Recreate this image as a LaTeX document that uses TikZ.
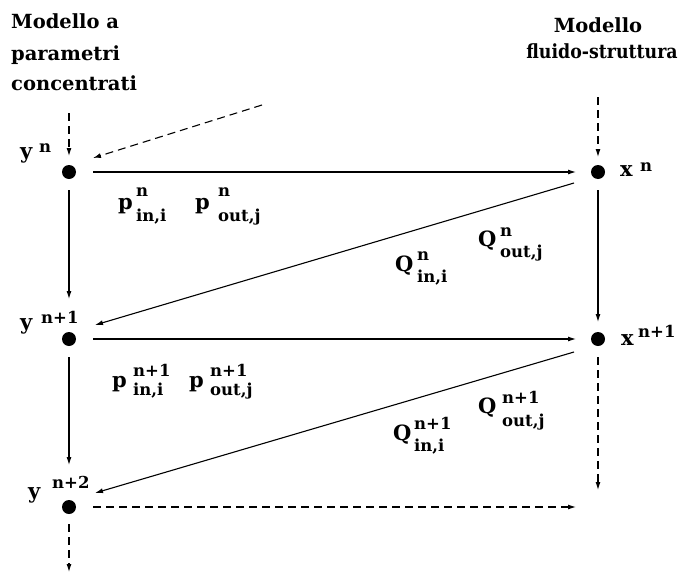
\documentclass[tikz,border=0pt]{standalone}
\usepackage{fontspec}
\setmainfont{DejaVu Serif}
\usetikzlibrary{arrows.meta,calc}
\newcommand\mylab[6]{\makebox[#4][l]{\fontsize{21}{21}\selectfont #1}{\fontsize{16.5}{16.5}\selectfont\rlap{\raisebox{#5}{#2}}\raisebox{-#6}{#3}}}
\tikzset{
  dot/.style={circle,fill=black,inner sep=0pt,minimum size=14pt},
  lbl/.style={anchor=base west,inner sep=0pt,font=\bfseries},
  ttl/.style={inner sep=0pt,font=\bfseries\fontsize{19.5}{19.5}\selectfont},
  arr/.style={line width=1.1pt,-{Latex[length=8pt,width=5pt]}},
  darr/.style={arr,dash pattern=on 8pt off 5pt},
}
\begin{document}
\begin{tikzpicture}[x=1pt,y=-1pt]
\useasboundingbox[fill=white] (0,0) rectangle (686,573);
% titles
\node[ttl,anchor=base west] (t1) at (11,28) {Modello a};
\node[ttl,anchor=base west] (t2) at (11,60) {parametri};
\node[ttl,anchor=base west] (t3) at (11,90) {concentrati};
\node[ttl,anchor=base] (t4) at (598,32) {Modello};
\node[ttl,anchor=base] (t5) at (602,58) {\scalebox{0.89}[1]{fluido-struttura}};
% dots
\node[dot] (yn) at (69,172) {};
\node[dot] (yn1) at (69,339) {};
\node[dot] (yn2) at (69,507) {};
\node[dot] (xn) at (598,172) {};
\node[dot] (xn1) at (598,339) {};
% free ends
\coordinate (sy) at (69,113);
\coordinate (sd) at (262,105);
\coordinate (sx) at (598,97);
\coordinate (ey) at (576,507);
\coordinate (eyb) at (69,572);
\coordinate (exb) at (598,490);
% connectors
\draw[darr] (sy) -- ($(yn)+(0,-16)$);
\draw[darr] (sd) -- ($(yn)+(24,-14)$);
\draw[darr] (sx) -- ($(xn)+(0,-15)$);
\draw[arr] ($(yn)+(24,0)$) -- ($(xn)+(-22,0)$);
\draw[arr] ($(xn)+(-24,11)$) -- ($(yn1)+(26,-14)$);
\draw[arr] ($(yn)+(0,18)$) -- ($(yn1)+(0,-40)$);
\draw[arr] ($(xn)+(0,18)$) -- ($(xn1)+(0,-17)$);
\draw[arr] ($(yn1)+(24,0)$) -- ($(xn1)+(-22,0)$);
\draw[arr] ($(xn1)+(-24,13)$) -- ($(yn2)+(26,-14)$);
\draw[arr] ($(yn1)+(0,18)$) -- ($(yn2)+(0,-42)$);
\draw[darr] ($(yn2)+(24,0)$) -- (ey);
\draw[darr] ($(yn2)+(0,17)$) -- (eyb);
\draw[darr] ($(xn1)+(0,18)$) -- (exb);
% labels
\node[lbl] (lyn) at (20,158) {\mylab{y}{n}{}{19pt}{6pt}{0pt}};
\node[lbl] (lyn1) at (20,329) {\mylab{y}{n+1}{}{21pt}{6pt}{0pt}};
\node[lbl] (lyn2) at (28,498) {\mylab{y}{n+2}{}{24pt}{10pt}{0pt}};
\node[lbl] (lxn) at (620,176) {\mylab{x}{n}{}{20pt}{5pt}{0pt}};
\node[lbl] (lxn1) at (621,345) {\mylab{x}{n+1}{}{17pt}{8pt}{0pt}};
\node[lbl] (p1) at (118,209) {\mylab{p}{n}{in,i}{18pt}{13pt}{12pt}};
\node[lbl] (p2) at (195,209) {\mylab{p}{n}{out,j}{23pt}{13pt}{12pt}};
\node[lbl] (p3) at (112,387) {\mylab{p}{n+1}{in,i}{21pt}{11pt}{8pt}};
\node[lbl] (p4) at (189,387) {\mylab{p}{n+1}{out,j}{21pt}{11pt}{8pt}};
\node[lbl] (q1) at (395,271) {\mylab{Q}{n}{in,i}{22pt}{11pt}{11pt}};
\node[lbl] (q2) at (478,246) {\mylab{Q}{n}{out,j}{22pt}{10pt}{11pt}};
\node[lbl] (q3) at (393,440) {\mylab{Q}{n+1}{in,i}{21pt}{11pt}{11pt}};
\node[lbl] (q4) at (478,413) {\mylab{Q}{n+1}{out,j}{24pt}{10pt}{13pt}};
\end{tikzpicture}
\end{document}
